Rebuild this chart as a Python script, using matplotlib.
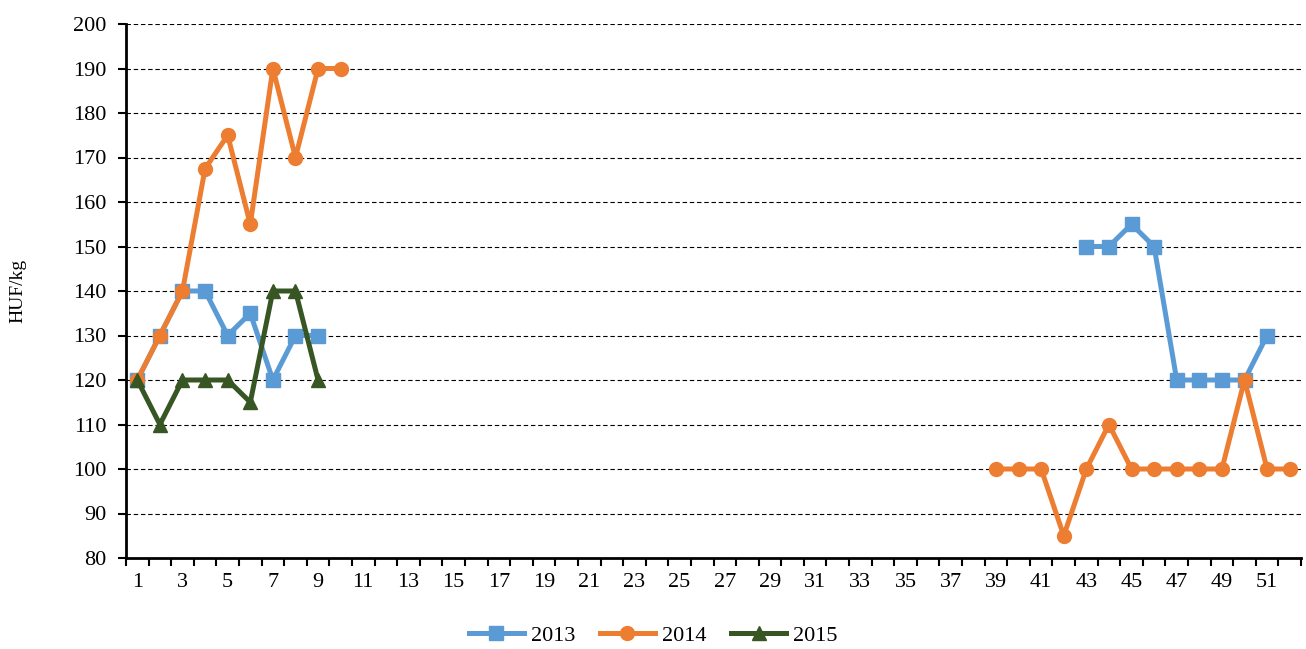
import matplotlib.pyplot as plt
import numpy as np

plt.rcParams["font.family"] = ["Liberation Serif", "DejaVu Serif"]

weeks = np.arange(1, 53)
nan = np.nan

# weekly prices, HUF/kg (nan = no quotation)
price_2013 = [120, 130, 140, 140, 130, 135, 120, 130, 130] + [nan] * 33 + \
    [150, 150, 155, 150, 120, 120, 120, 120, 130, nan]
price_2014 = [120, 130, 140, 167.5, 175, 155, 190, 170, 190, 190] + [nan] * 28 + \
    [100, 100, 100, 85, 100, 110, 100, 100, 100, 100, 100, 120, 100, 100]
price_2015 = [120, 110, 120, 120, 120, 115, 140, 140, 120] + [nan] * 43

series = [
    ("2013", price_2013, "#5B9BD5", "s"),
    ("2014", price_2014, "#ED7D31", "o"),
    ("2015", price_2015, "#375623", "^"),
]

fig = plt.figure(figsize=(13.06, 6.49), dpi=100)
ax = fig.add_axes([126 / 1306, 1 - 558 / 649, 1175 / 1306, 534 / 649])

for name, vals, color, marker in series:
    ax.plot(weeks, np.array(vals, dtype=float), color=color, marker=marker,
            linewidth=3.6, markersize=10, label=name, zorder=3)

ax.set_xlim(0.5, 52.5)
ax.set_ylim(80, 200)
ax.set_yticks(np.arange(80, 201, 10))
ax.set_xticks(np.arange(1, 53, 2))
ax.set_xticks(np.arange(0.5, 53, 1), minor=True)
ax.tick_params(axis="x", which="major", length=0, labelsize=16, pad=11)
ax.tick_params(axis="x", which="minor", length=6, width=1.5, direction="out")
ax.tick_params(axis="y", length=6, width=1.5, labelsize=16, pad=8)

for y in np.arange(90, 201, 10):
    ax.axhline(y, color="black", linestyle=(0, (4, 2.5)), linewidth=0.8, zorder=1)

for side in ["top", "right"]:
    ax.spines[side].set_visible(False)
ax.spines["left"].set_linewidth(2)
ax.spines["bottom"].set_linewidth(2)

ax.set_ylabel("HUF/kg", fontsize=14)
ax.yaxis.set_label_coords(-0.085, 0.5)

fig.legend(loc="center", bbox_to_anchor=(0.5, 1 - 636 / 649), ncol=3, frameon=False,
           fontsize=16, handlelength=2.5, columnspacing=1.1, handletextpad=0.3,
           borderpad=0)

fig.savefig("out.png", dpi=100)
